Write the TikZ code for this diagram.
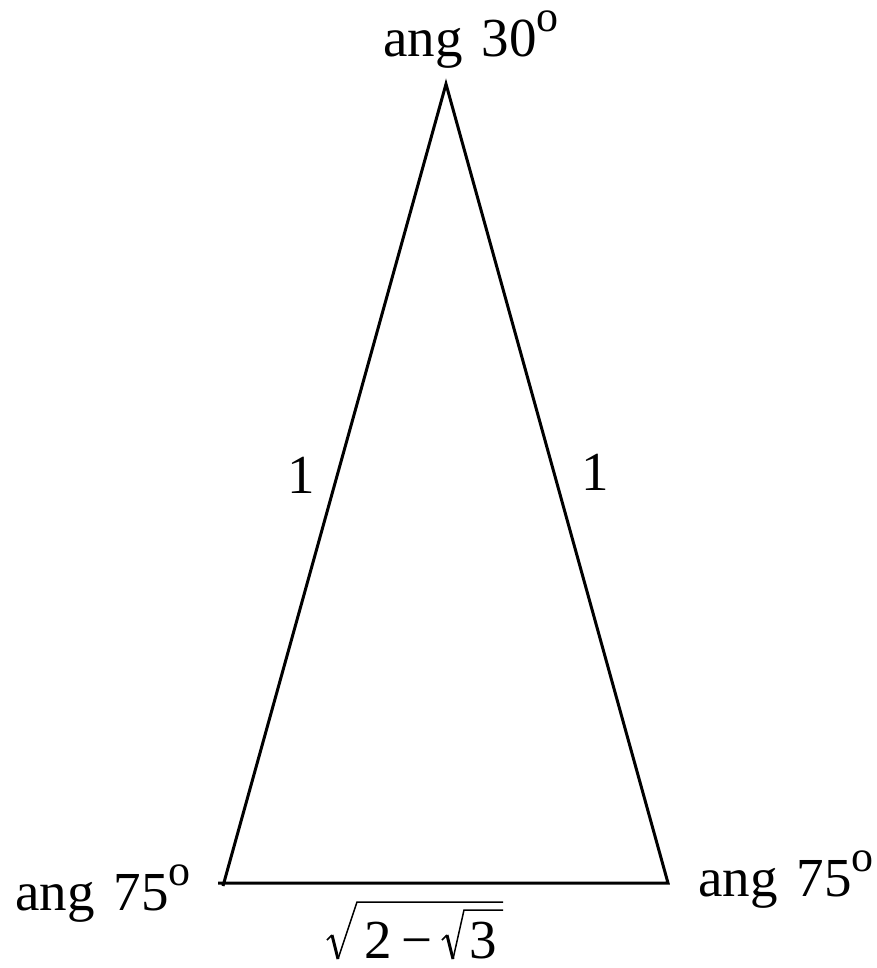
\documentclass[tikz,border=0pt]{standalone}
\usepackage{fontspec}
\setmainfont{Liberation Serif}
\newcommand{\anglbl}[1]{ang\hspace{19pt}#1\raisebox{25pt}[22pt][0pt]{\fontsize{44}{44}\selectfont o}}
\begin{document}
\begin{tikzpicture}[x=1pt,y=-1pt,
  lbl/.style={inner sep=0pt,font=\fontsize{55}{58}\selectfont},
  edge/.style={line width=3pt,black},
  radthin/.style={line width=1.5pt,black,line join=miter},
  radthick/.style={line width=3pt,black}]
\useasboundingbox (0,0) rectangle (876,968);
\coordinate (A) at (446,84);
\coordinate (B) at (223,886);
\coordinate (B2) at (218,883);
\coordinate (C) at (668,883);
\draw[edge,line join=miter] (B) -- (A) -- (C) -- (B2);
\node[lbl,anchor=base west] (tA) at (383,57) {\anglbl{30}};
\node[lbl,anchor=base west] (tB) at (15,910) {\anglbl{75}};
\node[lbl,anchor=base west] (tC) at (698,896) {\anglbl{75}};
\node[lbl,anchor=base] (s1) at (301,493) {1};
\node[lbl,anchor=base] (s2) at (595,490) {1};
% base label: sqrt(2 - sqrt(3))
\node[lbl,anchor=base] (d2) at (378.5,958) {2};
\node[lbl,anchor=base] (dm) at (417.5,958) {−};
\node[lbl,anchor=base] (d3) at (483.5,958) {3};
\coordinate (r1a) at (327,940);
\coordinate (r1b) at (332,935);
\coordinate (r1c) at (338,959);
\coordinate (r1d) at (357,902);
\coordinate (r1e) at (503,902);
\coordinate (r2a) at (442,940);
\coordinate (r2b) at (447,935);
\coordinate (r2c) at (453,959);
\coordinate (r2d) at (464,910);
\coordinate (r2e) at (503,910);
\draw[radthin] (r1a) -- (r1b);
\draw[radthick] (r1b) -- (r1c);
\draw[radthin] (r1c) -- (r1d) -- (r1e);
\draw[radthin] (r2a) -- (r2b);
\draw[radthick] (r2b) -- (r2c);
\draw[radthin] (r2c) -- (r2d) -- (r2e);
\end{tikzpicture}
\end{document}
